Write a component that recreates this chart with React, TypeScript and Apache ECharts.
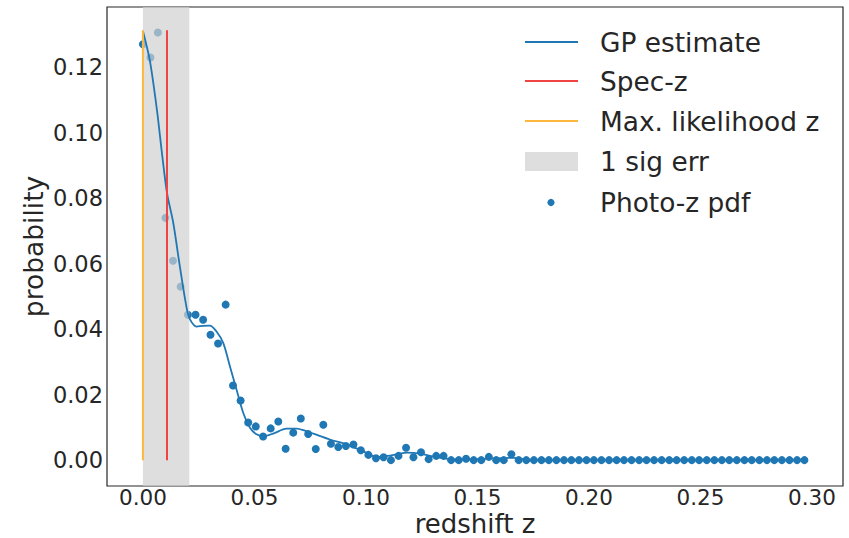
import React, { useEffect, useRef } from "react";
import * as echarts from "echarts";

// Photo-z pdf sample grid (redshift) and probabilities
const photoZ = [
  0, 0.0034, 0.0067, 0.0101, 0.0135, 0.0169, 0.0202, 0.0236, 0.027, 0.0303,
  0.0337, 0.0371, 0.0404, 0.0438, 0.0472, 0.0506, 0.0539, 0.0573, 0.0607, 0.064,
  0.0674, 0.0708, 0.0741, 0.0775, 0.0809, 0.0843, 0.0876, 0.091, 0.0944, 0.0977,
  0.1011, 0.1045, 0.1079, 0.1112, 0.1146, 0.118, 0.1213, 0.1247, 0.1281, 0.1315,
  0.1348, 0.1382, 0.1416, 0.1449, 0.1483, 0.1517, 0.1551, 0.1584, 0.1618, 0.1652,
  0.1685, 0.1719, 0.1753, 0.1787, 0.182, 0.1854, 0.1888, 0.1921, 0.1955, 0.1989,
  0.2022, 0.2056, 0.209, 0.2124, 0.2157, 0.2191, 0.2225, 0.2258, 0.2292, 0.2326,
  0.236, 0.2393, 0.2427, 0.2461, 0.2494, 0.2528, 0.2562, 0.2596, 0.2629, 0.2663,
  0.2697, 0.273, 0.2764, 0.2798, 0.2831, 0.2865, 0.2899, 0.2933, 0.2966,
];
const photoP = [
  0.127, 0.123, 0.1306, 0.074, 0.0609, 0.053, 0.0444, 0.0444, 0.0429, 0.0383,
  0.0356, 0.0475, 0.0228, 0.0182, 0.0115, 0.0103, 0.0072, 0.0097, 0.0118, 0.0035,
  0.0084, 0.0127, 0.008, 0.0034, 0.0108, 0.005, 0.004, 0.0043, 0.0048, 0.003,
  0.0016, 0.0006, 0.0009, 0.0, 0.0013, 0.0038, 0.0009, 0.0024, 0.0003, 0.0013,
  0.0013, 0, 0, 0.0004, 0, 0, 0.001, 0, 0, 0.0018,
  0, 0, 0, 0, 0, 0, 0, 0, 0, 0,
  0, 0, 0, 0, 0, 0, 0, 0, 0, 0,
  0, 0, 0, 0, 0, 0, 0, 0, 0, 0,
  0, 0, 0, 0, 0, 0, 0, 0, 0,
];

// GP estimate curve
const gpZ = [
  0, 0.0031, 0.0063, 0.0085, 0.0108, 0.0136, 0.0166, 0.0196, 0.0211, 0.0241,
  0.0269, 0.03, 0.033, 0.036, 0.039, 0.042, 0.045, 0.048, 0.0507, 0.0539,
  0.0584, 0.0644, 0.0689, 0.0726, 0.0764, 0.0839, 0.0913, 0.0988, 0.1048, 0.1108,
  0.1183, 0.1242, 0.1317, 0.1391, 0.1466, 0.1556, 0.1661, 0.1735, 0.187, 0.2966,
];
const gpP = [
  0.1311, 0.1221, 0.1069, 0.094, 0.0816, 0.0725, 0.059, 0.0465, 0.043, 0.0408,
  0.041, 0.0411, 0.0393, 0.0358, 0.0287, 0.0215, 0.0144, 0.0099, 0.008, 0.0073,
  0.0081, 0.0096, 0.0096, 0.009, 0.0081, 0.0063, 0.0048, 0.0027, 0.001, 0.0014,
  0.0023, 0.002, 0.0009, 0.0002, 0.0002, 0.0005, 0.0007, 0.0001, 0, 0,
];

const specZ = 0.0108;
const maxLikeZ = 0;
const lineTop = 0.1313;
const sigErr = [0, 0.0208];

const xTicks = [0, 0.05, 0.1, 0.15, 0.2, 0.25, 0.3];
const yTicks = [0, 0.02, 0.04, 0.06, 0.08, 0.1, 0.12];

const legendLabels = ["GP estimate", "Spec-z", "Max. likelihood z", "1 sig err", "Photo-z pdf"];

const BLUE = "#1f77b4";
const RED = "#f04343";
const ORANGE = "#fdb73d";
const BAND = "rgba(208,208,208,0.7)";
const TEXT = "#262626";
const FONT = "DejaVu Sans";

export default function App() {
  const ref = useRef<HTMLDivElement>(null);

  useEffect(() => {
    if (!ref.current) return;
    const chart = echarts.init(ref.current, undefined, { renderer: "svg" });

    const legendRowsY = [42, 81, 121, 161.5, 202.5];
    const legendX0 = 525;
    const legendX1 = 578;
    const textX = 600;
    const legendGraphics: any[] = [];
    const lineColors = [BLUE, RED, ORANGE];
    for (let k = 0; k < 3; k++) {
      legendGraphics.push({
        type: "line",
        shape: { x1: legendX0, y1: legendRowsY[k], x2: legendX1, y2: legendRowsY[k] },
        style: { stroke: lineColors[k], lineWidth: 2 },
      });
    }
    legendGraphics.push({
      type: "rect",
      shape: { x: legendX0, y: legendRowsY[3] - 9.5, width: legendX1 - legendX0, height: 19 },
      style: { fill: "#dedede" },
    });
    legendGraphics.push({
      type: "circle",
      shape: { cx: (legendX0 + legendX1) / 2 - 0.5, cy: legendRowsY[4], r: 3.6 },
      style: { fill: BLUE },
    });
    legendLabels.forEach((label, k) => {
      legendGraphics.push({
        type: "text",
        x: textX,
        y: legendRowsY[k],
        style: {
          text: label,
          fill: TEXT,
          font: `26.4px "${FONT}"`,
          textVerticalAlign: "middle",
          verticalAlign: "middle",
        },
      });
    });

    chart.setOption({
      animation: false,
      backgroundColor: "#ffffff",
      textStyle: { fontFamily: FONT },
      grid: {
        left: 107,
        right: 6,
        top: 7,
        bottom: 52,
        containLabel: false,
        outerBoundsMode: "none",
        show: true,
        borderColor: "#262626",
        borderWidth: 1.2,
        backgroundColor: "transparent",
      },
      xAxis: {
        type: "value",
        min: -0.0161,
        max: 0.3139,
        name: "redshift z",
        nameLocation: "middle",
        nameGap: 25,
        nameMoveOverlap: false,
        nameTextStyle: { fontSize: 26, lineHeight: 26, color: TEXT, fontFamily: FONT },
        axisLine: { show: false },
        axisTick: { show: false },
        splitLine: { show: false },
        axisLabel: {
          customValues: xTicks,
          formatter: (v: number) => v.toFixed(2),
          fontSize: 21.5,
          lineHeight: 21,
          color: TEXT,
          fontFamily: FONT,
          margin: 1,
        },
      },
      yAxis: {
        type: "value",
        min: -0.0079,
        max: 0.1384,
        name: "probability",
        nameLocation: "middle",
        nameGap: 60,
        nameMoveOverlap: false,
        nameTextStyle: { fontSize: 26.5, color: TEXT, fontFamily: FONT },
        axisLine: { show: false },
        axisTick: { show: false },
        splitLine: { show: false },
        axisLabel: {
          customValues: yTicks,
          formatter: (v: number) => v.toFixed(2),
          fontSize: 22.5,
          color: TEXT,
          fontFamily: FONT,
          margin: 4,
        },
      },
      series: [
        {
          name: "Photo-z pdf",
          type: "scatter",
          z: 2,
          symbolSize: 8,
          itemStyle: { color: BLUE, opacity: 1 },
          data: photoZ.map((z, i) => [z, photoP[i]]),
        },
        {
          name: "1 sig err",
          type: "line",
          z: 3,
          data: [],
          markArea: {
            silent: true,
            z: 3,
            itemStyle: { color: BAND },
            data: [[{ xAxis: sigErr[0] }, { xAxis: sigErr[1] }]],
          },
        },
        {
          name: "GP estimate",
          type: "line",
          z: 4,
          smooth: 0.3,
          symbol: "none",
          lineStyle: { color: BLUE, width: 1.8 },
          data: gpZ.map((z, i) => [z, gpP[i]]),
        },
        {
          name: "Spec-z",
          type: "line",
          z: 5,
          symbol: "none",
          lineStyle: { color: RED, width: 2 },
          data: [
            [specZ, 0],
            [specZ, lineTop],
          ],
        },
        {
          name: "Max. likelihood z",
          type: "line",
          z: 5,
          symbol: "none",
          lineStyle: { color: ORANGE, width: 2 },
          data: [
            [maxLikeZ, 0],
            [maxLikeZ, lineTop],
          ],
        },
      ],
      graphic: legendGraphics,
    });

    return () => {
      chart.dispose();
    };
  }, []);

  return (
    <div
      ref={ref}
      style={{ position: "fixed", left: 0, top: 0, width: 849, height: 538, background: "#fff" }}
    />
  );
}
